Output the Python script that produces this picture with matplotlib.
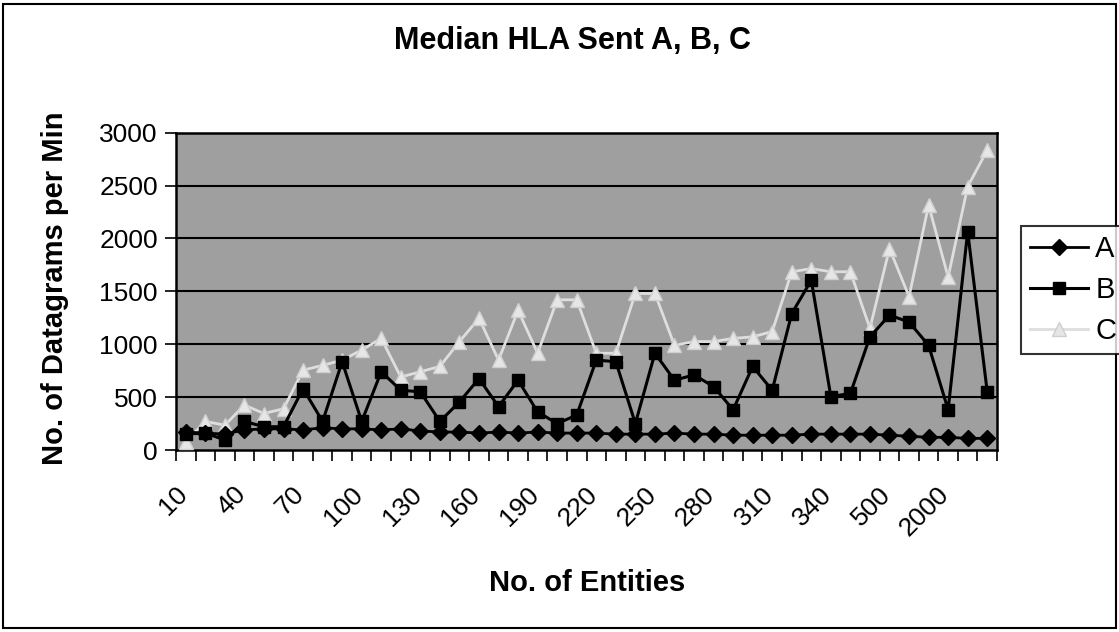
import matplotlib.pyplot as plt
import matplotlib.transforms as mtransforms
from matplotlib.patches import Rectangle

plt.rcParams['font.family'] = ['Liberation Sans', 'DejaVu Sans']

entities = [str(v) for v in range(10, 350, 10)] + ['350', '400', '500', '1000', '1500', '2000', '2500', '3000']

sent_a = [170, 160, 150, 190, 200, 200, 190, 210, 200, 200, 190, 200, 180, 170,
          170, 160, 170, 160, 170, 160, 160, 160, 150, 150, 150, 160, 150, 150,
          140, 140, 140, 140, 150, 150, 150, 150, 140, 130, 120, 120, 110, 110]
sent_b = [150, 160, 95, 270, 220, 220, 580, 270, 835, 270, 740, 565, 550, 270,
          455, 675, 410, 660, 360, 250, 330, 850, 835, 250, 915, 660, 710, 600,
          380, 790, 565, 1290, 1605, 505, 535, 1070, 1275, 1210, 990, 380, 2065, 550]
sent_c = [80, 270, 235, 425, 345, 390, 755, 800, 850, 945, 1055, 690, 740, 790,
          1025, 1245, 850, 1320, 915, 1420, 1420, 915, 915, 1480, 1480, 990, 1025, 1025,
          1055, 1070, 1120, 1685, 1715, 1685, 1685, 1150, 1905, 1450, 2315, 1635, 2490, 2835]

W, H = 1119, 632
fig = plt.figure(figsize=(W / 100, H / 100), dpi=100)
ax = fig.add_axes([176 / W, 1 - 450 / H, 821 / W, 317.3 / H])
ax.set_facecolor('#9f9f9f')

x = list(range(len(entities)))
ax.plot(x, sent_c, color='#dedede', lw=2, marker='^', ms=10, mfc='#e6e6e6', mec='#cfcfcf', label='C', zorder=3)
ax.plot(x, sent_b, color='black', lw=2.2, marker='s', ms=9, mfc='black', mec='black', label='B', zorder=4)
ax.plot(x, sent_a, color='black', lw=2, marker='D', ms=8, mfc='black', mec='black', label='A', zorder=5)

ax.set_ylim(0, 3000)
ax.set_xlim(-0.5, len(entities) - 0.5)
ax.set_yticks(range(0, 3001, 500))
for v in range(500, 3000, 500):
    ax.axhline(v, color='black', lw=1.5, zorder=1)

ax.set_xticks(x)
ax.set_xticklabels([lab if i % 3 == 0 else '' for i, lab in enumerate(entities)],
                   rotation=45, ha='right', rotation_mode='anchor', fontsize=19)
ax.set_xticks([i - 0.5 for i in range(len(entities) + 1)], minor=True)
ax.tick_params(axis='x', which='major', length=0, pad=16)
ax.tick_params(axis='x', which='minor', length=8, width=1.2, direction='out')
ax.tick_params(axis='y', length=8, width=1.2, direction='out', labelsize=19, pad=5)
shift = mtransforms.ScaledTranslation(-0.11, -0.10, fig.dpi_scale_trans)
for lab in ax.get_xticklabels():
    lab.set_transform(lab.get_transform() + shift)
for s in ax.spines.values():
    s.set_linewidth(1.8)
    s.set_color('black')

fig.text(572 / W, 1 - 41 / H, 'Median HLA Sent A, B, C', ha='center', va='center',
         fontsize=22, fontweight='bold')
fig.text(55 / W, 1 - 288 / H, 'No. of Datagrams per Min', ha='center', va='center',
         rotation=90, fontsize=21, fontweight='bold')
fig.text(587 / W, 1 - 583 / H, 'No. of Entities', ha='center', va='center',
         fontsize=21, fontweight='bold')

handles, labels = ax.get_legend_handles_labels()
leg = fig.legend(handles[::-1], labels[::-1], loc='upper left',
                 bbox_to_anchor=(1021 / W, 1 - 226 / H), fontsize=21,
                 frameon=True, fancybox=False, edgecolor='black',
                 handlelength=2.0, handletextpad=0.25, borderpad=0.3, labelspacing=0.45,
                 borderaxespad=0)
leg.get_frame().set_linewidth(1.5)

fig.patches.append(Rectangle((3 / W, 4 / H), 1 - 6 / W, 1 - 8 / H, transform=fig.transFigure,
                             fill=False, edgecolor='black', lw=1.5))

fig.savefig('out.png', dpi=100)
